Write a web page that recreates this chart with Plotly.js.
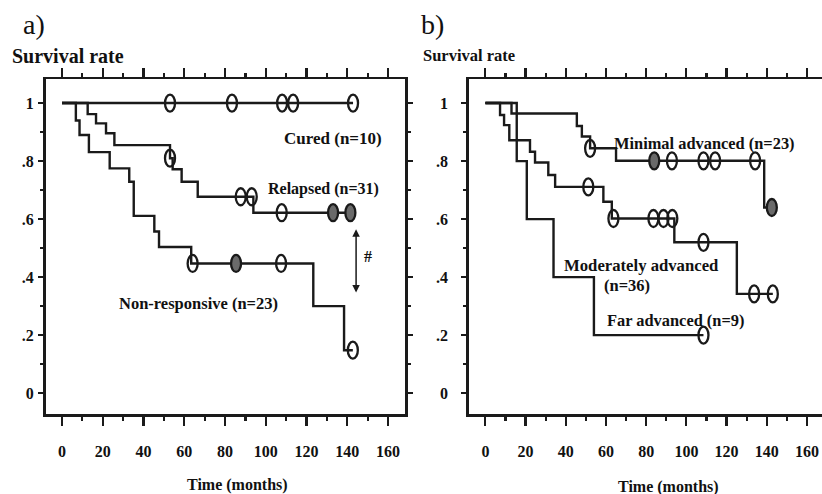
<!DOCTYPE html>
<html><head><meta charset="utf-8">
<script src="https://cdn.plot.ly/plotly-3.0.1.min.js"></script>
<style>html,body{margin:0;padding:0;overflow:hidden;background:#fff}#chart{width:834px;height:494px}</style>
</head><body><div id="chart"></div>
<script>
// ---------- Panel a data (months, survival rate) ----------
const curedTime = [0, 142.8];
const curedSurv = [1, 1];
const curedCensorTime = [53.0, 83.4, 108.0, 113.4, 142.8];
const curedCensorSurv = [1, 1, 1, 1, 1];

const relapsedTime = [0, 12.6, 16.7, 21.6, 25.7, 53.0, 54.3, 58.7, 66.6, 93.9, 142.8];
const relapsedSurv = [1, 0.962, 0.930, 0.896, 0.855, 0.81, 0.772, 0.729, 0.677, 0.622, 0.622];
const relapsedCensorTime = [53.0, 87.7, 93.1, 107.8];
const relapsedCensorSurv = [0.81, 0.677, 0.677, 0.622];
const relapsedShadedTime = [133.0, 141.5];
const relapsedShadedSurv = [0.622, 0.622];

const nonrespTime = [0, 6.8, 8.6, 13.2, 23.4, 33.0, 35.2, 45.3, 47.6, 63.4, 123.3, 138.4, 142.7];
const nonrespSurv = [1, 0.94, 0.89, 0.831, 0.775, 0.729, 0.611, 0.557, 0.504, 0.447, 0.30, 0.148, 0.148];
const nonrespCensorTime = [64.1, 107.5, 142.7];
const nonrespCensorSurv = [0.447, 0.447, 0.148];
const nonrespShadedTime = [85.4];
const nonrespShadedSurv = [0.447];

// ---------- Panel b data ----------
const minimalTime = [0, 13.0, 45.5, 48.0, 52.1, 65.0, 138.7, 142.5];
const minimalSurv = [1, 0.964, 0.921, 0.885, 0.844, 0.801, 0.64, 0.64];
const minimalCensorTime = [52.1, 92.8, 108.5, 114.3, 134.2];
const minimalCensorSurv = [0.844, 0.801, 0.801, 0.801, 0.801];
const minimalShadedTime = [84.0, 142.5];
const minimalShadedSurv = [0.801, 0.64];

const moderateTime = [0, 7.3, 9.3, 11.9, 22.2, 24.7, 31.3, 34.7, 58.7, 62.9, 94.0, 125.1, 143.0];
const moderateSurv = [1, 0.959, 0.924, 0.872, 0.832, 0.795, 0.752, 0.711, 0.660, 0.602, 0.520, 0.342, 0.342];
const moderateCensorTime = [51.2, 63.7, 83.6, 88.6, 93.0, 108.5, 133.7, 143.0];
const moderateCensorSurv = [0.711, 0.602, 0.602, 0.602, 0.602, 0.520, 0.342, 0.342];

const farTime = [0, 15.6, 20.6, 33.9, 54.0, 108.5];
const farSurv = [1, 0.8, 0.6, 0.4, 0.2, 0.2];
const farCensorTime = [108.5];
const farCensorSurv = [0.2];

// ---------- Axis ticks ----------
const xTickVals = [0, 20, 40, 60, 80, 100, 120, 140, 160];
const xTickText = ['0', '20', '40', '60', '80', '100', '120', '140', '160'];
const yTickVals = [0, 0.2, 0.4, 0.6, 0.8, 1];
const yTickText = ['0', '.2', '.4', '.6', '.8', '1'];

// ---------- Rendering ----------
const W = 834, H = 494;
const INK = '#1a1a1a';
const FONT = '"Liberation Serif", "Times New Roman", Times, serif';

function curve(t, s, xa, ya) {
  return {x: t, y: s, xaxis: xa, yaxis: ya, type: 'scatter', mode: 'lines',
          line: {shape: 'hv', color: INK, width: 2.4}, hoverinfo: 'skip', showlegend: false};
}
const data = [
  curve(curedTime, curedSurv, 'x', 'y'),
  curve(relapsedTime, relapsedSurv, 'x', 'y'),
  curve(nonrespTime, nonrespSurv, 'x', 'y'),
  curve(minimalTime, minimalSurv, 'x2', 'y2'),
  curve(moderateTime, moderateSurv, 'x2', 'y2'),
  curve(farTime, farSurv, 'x2', 'y2')
];

const shapes = [];
function censors(ts, ss, xr, yr, filled) {
  ts.forEach((t, i) => {
    shapes.push({type: 'circle', xref: xr, yref: yr, xsizemode: 'pixel', ysizemode: 'pixel',
      xanchor: t, yanchor: ss[i], x0: -5, x1: 5, y0: -8.5, y1: 8.5,
      line: {color: INK, width: 2.3}, fillcolor: filled ? '#6a6a6a' : 'rgba(0,0,0,0)', layer: 'above'});
  });
}
censors(curedCensorTime, curedCensorSurv, 'x', 'y', false);
censors(relapsedCensorTime, relapsedCensorSurv, 'x', 'y', false);
censors(relapsedShadedTime, relapsedShadedSurv, 'x', 'y', true);
censors(nonrespCensorTime, nonrespCensorSurv, 'x', 'y', false);
censors(nonrespShadedTime, nonrespShadedSurv, 'x', 'y', true);
censors(minimalCensorTime, minimalCensorSurv, 'x2', 'y2', false);
censors(minimalShadedTime, minimalShadedSurv, 'x2', 'y2', true);
censors(moderateCensorTime, moderateCensorSurv, 'x2', 'y2', false);
censors(farCensorTime, farCensorSurv, 'x2', 'y2', false);

function xAxis(domain, range) {
  return {domain: domain, range: range, showgrid: false, zeroline: false,
    showline: true, linecolor: INK, linewidth: 2.5, mirror: 'allticks',
    tickmode: 'array', tickvals: xTickVals, ticktext: xTickText,
    ticks: 'outside', ticklen: 9, tickwidth: 2.2, tickcolor: INK,
    minor: {tickmode: 'linear', tick0: 0, dtick: 10, ticks: 'outside', ticklen: 4, tickwidth: 2.2, tickcolor: INK},
    ticklabelstandoff: 12,
    tickfont: {family: FONT, size: 16, color: '#111', weight: 'bold'}, fixedrange: true};
}
function yAxis(domain, anchor, standoff) {
  return {domain: domain, anchor: anchor, range: [-0.072, 1.083], showgrid: false, zeroline: false,
    showline: true, linecolor: INK, linewidth: 3, mirror: 'allticks',
    tickmode: 'array', tickvals: yTickVals, ticktext: yTickText,
    ticks: 'outside', ticklen: 5, tickwidth: 2, tickcolor: INK,
    minor: {tickmode: 'linear', tick0: 0, dtick: 0.1, ticks: 'outside', ticklen: 3, tickwidth: 2, tickcolor: INK},
    ticklabelstandoff: standoff,
    tickfont: {family: FONT, size: 16, color: '#111', weight: 'bold'}, fixedrange: true};
}

function P(px, py) { return {x: px / W, y: 1 - py / H}; }
function txt(text, px, py, size, anchor, bold) {
  const p = P(px, py);
  return {xref: 'paper', yref: 'paper', x: p.x, y: p.y, text: text, showarrow: false,
    xanchor: anchor, yanchor: 'middle',
    font: {family: FONT, size: size, color: '#111', weight: bold ? 'bold' : 'normal'}};
}

const annotations = [
  txt('a)', 21, 24, 28, 'left', false),
  txt('Survival rate', 10, 56, 20, 'left', true),
  txt('Cured (n=10)', 384, 139, 17, 'right', true),
  txt('Relapsed (n=31)', 266, 189, 16, 'left', true),
  txt('Non-responsive (n=23)', 117, 303, 16.5, 'left', true),
  txt('#', 368, 256, 16, 'center', true),
  txt('Time (months)', 237, 485, 16, 'center', true),
  txt('b)', 419, 24, 28, 'left', false),
  txt('Survival rate', 421, 56, 16.5, 'left', true),
  txt('Minimal advanced (n=23)', 612, 143, 16.4, 'left', true),
  txt('Moderately advanced', 641, 265, 16.7, 'center', true),
  txt('(n=36)', 627, 285, 16.5, 'center', true),
  txt('Far advanced (n=9)', 605, 320, 16.4, 'left', true),
  txt('Time (months)', 668, 487, 16, 'center', true),
  {xref: 'x', yref: 'y', axref: 'x', ayref: 'y', x: 144.3, y: 0.565, ax: 144.3, ay: 0.342,
   text: '', showarrow: true, arrowhead: 2, arrowside: 'end+start', arrowsize: 1, arrowwidth: 1.5,
   arrowcolor: INK, standoff: 0, startstandoff: 0}
];

const yDom = [(H - 414) / H, (H - 79) / H];
const layout = {
  width: W, height: H, margin: {l: 0, r: 0, t: 0, b: 0},
  paper_bgcolor: '#fff', plot_bgcolor: '#fff', showlegend: false,
  font: {family: FONT, color: '#111'},
  xaxis: xAxis([46 / W, 405 / W], [-7.85, 168.3]),
  yaxis: yAxis(yDom, 'x', 1),
  xaxis2: Object.assign(xAxis([469.3 / W, 828.3 / W], [-8.0, 170.6]), {anchor: 'y2'}),
  yaxis2: yAxis(yDom, 'x2', 10),
  shapes: shapes, annotations: annotations
};
layout.xaxis.anchor = 'y';

Plotly.newPlot('chart', data, layout, {staticPlot: true, displayModeBar: false});
</script></body></html>
